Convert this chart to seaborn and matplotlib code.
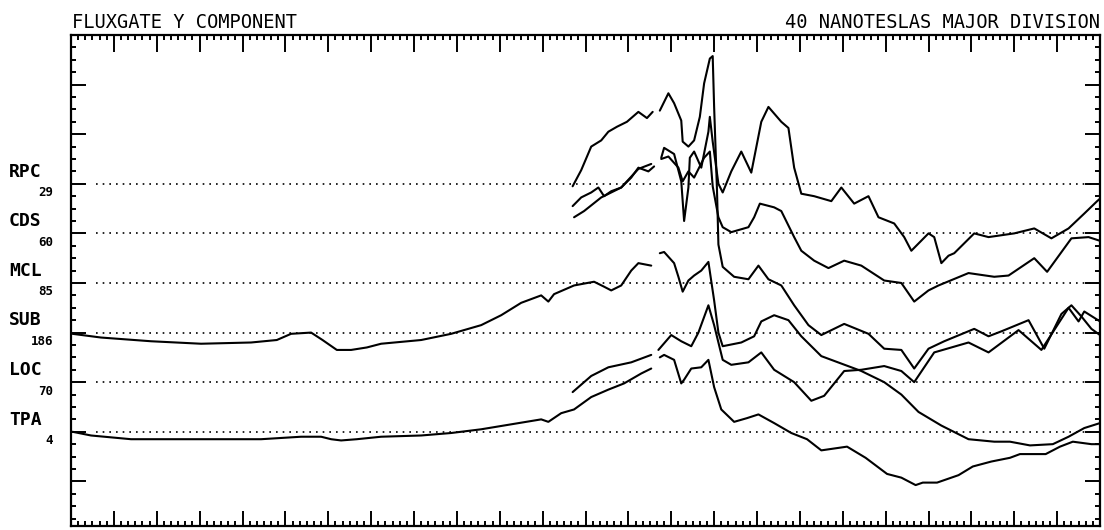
import numpy as np
import pandas as pd
import matplotlib
matplotlib.use("Agg")
import matplotlib.pyplot as plt
from matplotlib.transforms import blended_transform_factory
import seaborn as sns

# ---------------- data ----------------
# time in minutes from the left edge of the record, deviation in nT from each
# station's baseline; NaN marks a gap in the record
NaN = np.nan
stations = ["RPC", "CDS", "MCL", "SUB", "LOC", "TPA"]
station_numbers = ["29", "60", "85", "186", "70", "4"]
baseline_nT = [240, 200, 160, 120, 80, 40]          # stacking offsets

rpc_min = [351, 357, 364, 371, 376, 382, 389, 397, 403, 407, NaN, 412, 418, 422, 427, 428, 432, 436, 440, 443, 447,
           449, 450, 452, 453, 456, 464, 474, 481, 488, 497, 506, 516, 525, 541, 558, 569, 581, 590, 600, 611,
           632, 642, 651, 670, 681, 693, 700, 707, 714, 720]
rpc_nT = [-2, 11, 30, 35, 42, 46, 50, 58, 53, 58, NaN, 59, 73, 65, 51, 34, 30, 35, 54, 81, 101,
          103, 62, -5, -49, -67, -75, -77, -66, -77, -82, -98, -114, -122, -113, -121, -133, -134, -149, -133, -127,
          -117, -123, -119, -110, -133, -105, -98, -107, -117, -122]

cds_min = [351, 357, 364, 369, 373, 378, 385, 392, 397, 404, 408, NaN, 413, 415, 422, 427, 429, 432, 433, 436,
           441, 446, 447, 449, 453, 456, 462, 469, 476, 483, 488, 497, 502, 506, 511, 520, 532, 539, 548, 558,
           565, 576, 583, 588, 600, 604, 609, 614, 618, 632, 642, 660, 674, 686, 698, 709, 718, 720]
cds_nT = [22, 29, 33, 37, 30, 34, 37, 45, 53, 50, 54, NaN, 61, 69, 64, 42, 10, 37, 61, 66,
          53, 82, 94, 74, 40, 33, 50, 66, 49, 90, 102, 90, 85, 53, 32, 30, 26, 37, 24, 30,
          13, 8, -3, -14, 0, -3, -24, -18, -16, 0, -3, 0, 4, -4, 4, 16, 26, 28]

mcl_min = [352, 359, 371, 385, 397, 406, NaN, 413, 418, 425, 428, 432, 436, 443, 447, 449, 453, 456, 462, 474,
           478, 482, 492, 497, 506, 511, 520, 530, 541, 553, 569, 581, 590, 600, 607, 628, 646, 656, 674, 683,
           700, 712, 720]
mcl_nT = [53, 58, 69, 77, 92, 96, NaN, 100, 102, 93, 82, 90, 85, 101, 106, 78, 53, 45, 41, 45,
          53, 64, 61, 58, 37, 26, 18, 12, 18, 14, 2, 0, -15, -6, -2, 8, 5, 6, 20, 9,
          36, 37, 34]

sub_min = [1, 21, 56, 91, 126, 144, 154, 168, 176, 186, 196, 207, 217, 245, 266, 287, 301, 315, 329, 334,
           338, 352, 366, 373, 378, 385, 392, 397, 406, NaN, 412, 415, 422, 425, 428, 432, 436, 441, 446, 450,
           453, 456, 469, 478, 483, 492, 502, 511, 525, 539, 553, 569, 581, 593, 609, 628, 646, 657, 671, 687,
           698, 709, 720]
sub_nT = [-1, -4, -7, -9, -8, -6, -1, 0, -6, -14, -14, -12, -9, -6, -1, 6, 14, 24, 30, 25,
          31, 38, 41, 37, 34, 38, 50, 56, 54, NaN, 64, 65, 56, 45, 33, 42, 46, 50, 57, 26,
          0, -11, -8, -3, 9, 14, 10, -3, -19, -25, -31, -40, -50, -64, -75, -86, -88, -88, -91, -90,
          -84, -77, -73]

loc_min = [351, 364, 376, 392, 406, NaN, 411, 420, 427, 434, 439, 446, 450, 456, 462, 474, 483, 492, 506, 518,
           527, 541, 553, 569, 581, 590, 604, 628, 642, 663, 679, 698, 705, 709, 720]
loc_nT = [-8, 5, 12, 16, 22, NaN, 26, 38, 33, 29, 40, 62, 46, 18, 14, 16, 24, 10, 0, -15,
          -11, 9, 10, 13, 9, 0, 24, 32, 24, 42, 26, 60, 49, 57, 49]

tpa_min = [1, 14, 42, 91, 133, 161, 175, 182, 189, 200, 217, 245, 266, 287, 308, 329, 334, 343, 352, 364,
           376, 387, 399, 406, NaN, 412, 415, 422, 427, 429, 434, 441, 446, 450, 455, 464, 473, 481, 492, 504,
           515, 525, 543, 556, 571, 581, 591, 596, 606, 621, 631, 644, 657, 664, 682, 692, 701, 714, 720]
tpa_nT = [0, -3, -6, -6, -6, -4, -4, -6, -7, -6, -4, -3, -1, 2, 6, 10, 8, 15, 18, 28,
          34, 39, 47, 51, NaN, 60, 62, 58, 39, 42, 51, 52, 58, 36, 18, 8, 11, 14, 7, -1,
          -6, -15, -12, -21, -34, -37, -43, -41, -41, -35, -28, -24, -21, -18, -18, -12, -8, -10, -10]

series = {
    "RPC": (rpc_min, rpc_nT),
    "CDS": (cds_min, cds_nT),
    "MCL": (mcl_min, mcl_nT),
    "SUB": (sub_min, sub_nT),
    "LOC": (loc_min, loc_nT),
    "TPA": (tpa_min, tpa_nT),
}

title_left = "FLUXGATE Y COMPONENT"
title_right = "40 NANOTESLAS MAJOR DIVISION"

# ---------------- long table for seaborn ----------------
rows = []
for name, base in zip(stations, baseline_nT):
    t, v = series[name]
    seg = 0
    for ti, vi in zip(t, v):
        if np.isnan(ti):
            seg += 1
            continue
        rows.append({"station": name, "unit": f"{name}-{seg}", "hour": ti / 60.0, "pos": base + vi})
df = pd.DataFrame(rows)

# ---------------- figure ----------------
sns.set_theme(style="white")
plt.rcParams["font.family"] = ["DejaVu Sans Mono", "DejaVu Sans"]

W, H = 1104, 530
fig = plt.figure(figsize=(W / 100, H / 100), dpi=100)
ax = fig.add_axes([71 / W, 1 - 526 / H, 1029 / W, 491 / H])

ax.hlines(baseline_nT, 0.29, 12, colors="black", linestyles=(0, (1, 3)), lw=1.2, zorder=1)

sns.lineplot(data=df, x="hour", y="pos", units="unit", estimator=None, sort=False,
             color="black", lw=1.5, ax=ax, legend=False, zorder=3)

ax.set_xlim(0, 12)
ax.set_ylim(-36, 360)
ax.set_xlabel("")
ax.set_ylabel("")

ax.set_xticks(np.arange(0, 12.01, 0.5))
ax.set_xticks(np.arange(0, 12.01, 1 / 12), minor=True)
ax.set_yticks(np.arange(0, 361, 40))
ax.set_yticks(np.arange(-30, 361, 10), minor=True)
ax.tick_params(which="both", direction="in", top=True, bottom=True, left=True, right=True,
               labelbottom=False, labelleft=False, labeltop=False, labelright=False,
               color="black", width=1.4)
ax.tick_params(axis="x", which="major", length=7)
ax.tick_params(axis="x", which="minor", length=3.5)
ax.tick_params(axis="y", which="major", length=11)
ax.tick_params(axis="y", which="minor", length=3.5)
for tick in ax.xaxis.get_major_ticks():
    loc = tick.get_loc()
    if abs(loc - round(loc)) < 1e-6:
        tick.tick1line.set_markersize(11)
        tick.tick2line.set_markersize(12)

for sp in ax.spines.values():
    sp.set_color("black")
    sp.set_linewidth(1.6)
    sp.set_visible(True)

# station labels
trans = blended_transform_factory(fig.transFigure, ax.transData)
for name, num, base in zip(stations, station_numbers, baseline_nT):
    ax.text(9 / W, base + 2.5, name, transform=trans, ha="left", va="bottom",
            fontsize=13, fontweight="bold", color="black", clip_on=False)
    ax.text(53 / W, base - 2, num, transform=trans, ha="right", va="top",
            fontsize=9, fontweight="bold", color="black", clip_on=False)

fig.text(72 / W, 1 - 28 / H, title_left, ha="left", va="baseline", fontsize=13.5, color="black")
fig.text(1100 / W, 1 - 28 / H, title_right, ha="right", va="baseline", fontsize=13.5, color="black")

fig.savefig("out.png", dpi=100, facecolor="white")
